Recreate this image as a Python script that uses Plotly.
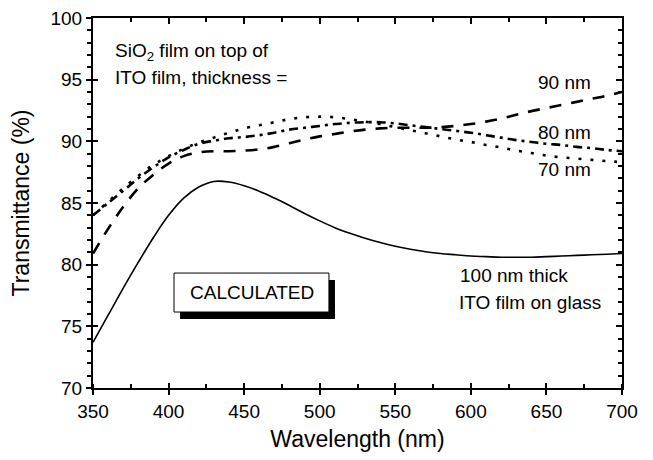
import plotly.graph_objects as go

wavelength = [350, 360, 370, 380, 390, 400, 410, 420, 430, 440, 450, 460, 470, 480, 490,
              500, 510, 520, 530, 540, 550, 560, 570, 580, 590, 600, 610, 620, 630, 640,
              650, 660, 670, 680, 690, 700]

t_ito_only = [73.7, 75.9, 78.1, 80.2, 82.2, 84.0, 85.4, 86.3, 86.75, 86.7, 86.4, 85.95, 85.4, 84.8, 84.15,
              83.55, 83.0, 82.55, 82.15, 81.8, 81.5, 81.25, 81.05, 80.9, 80.8, 80.7, 80.65, 80.6, 80.6, 80.6,
              80.65, 80.7, 80.75, 80.8, 80.85, 80.9]

t_90nm = [80.9, 82.9, 84.7, 86.2, 87.3, 88.2, 88.8, 89.1, 89.2, 89.2, 89.25, 89.35, 89.55, 89.85, 90.15,
          90.4, 90.6, 90.8, 90.95, 91.05, 91.1, 91.1, 91.1, 91.15, 91.25, 91.4, 91.6, 91.85, 92.15, 92.45,
          92.7, 92.95, 93.2, 93.45, 93.7, 94.0]

t_80nm = [84.0, 85.0, 86.0, 87.0, 87.9, 88.7, 89.3, 89.8, 90.05, 90.25, 90.35, 90.5, 90.7, 90.95, 91.1,
          91.25, 91.4, 91.5, 91.55, 91.55, 91.45, 91.3, 91.15, 91.0, 90.85, 90.7, 90.5, 90.3, 90.1, 89.95,
          89.8, 89.7, 89.55, 89.45, 89.3, 89.2]

t_70nm = [84.0, 85.1, 86.2, 87.2, 88.1, 88.8, 89.4, 89.9, 90.3, 90.7, 91.05, 91.3, 91.55, 91.8, 91.95,
          92.0, 91.95, 91.8, 91.6, 91.4, 91.15, 90.9, 90.65, 90.4, 90.15, 89.95, 89.7, 89.5, 89.25, 89.05,
          88.85, 88.7, 88.6, 88.5, 88.4, 88.3]

x_ticks = [350, 400, 450, 500, 550, 600, 650, 700]
y_ticks = [70, 75, 80, 85, 90, 95, 100]

FONT = "Liberation Sans"
X_RANGE = [350, 700]
Y_RANGE = [70, 100]

fig = go.Figure()
fig.add_trace(go.Scatter(x=wavelength, y=t_ito_only, mode="lines",
                         line=dict(color="black", width=1.6, shape="spline")))
fig.add_trace(go.Scatter(x=wavelength, y=t_90nm, mode="lines",
                         line=dict(color="black", width=2.6, dash="12px,10px", shape="spline")))
fig.add_trace(go.Scatter(x=wavelength, y=t_80nm, mode="lines",
                         line=dict(color="black", width=2.6, dash="9px,5px,3px,5px", shape="spline")))
fig.add_trace(go.Scatter(x=wavelength, y=t_70nm, mode="lines",
                         line=dict(color="black", width=2.6, dash="3px,9px", shape="spline")))
# invisible helper traces so the overlay tick axes are drawn
fig.add_trace(go.Scatter(x=[X_RANGE[0]], y=[Y_RANGE[0]], xaxis="x2", yaxis="y2", mode="markers",
                         marker=dict(opacity=0), hoverinfo="skip"))
fig.add_trace(go.Scatter(x=[X_RANGE[0]], y=[Y_RANGE[0]], xaxis="x3", yaxis="y3", mode="markers",
                         marker=dict(opacity=0), hoverinfo="skip"))

axis_common = dict(showgrid=False, zeroline=False, linecolor="black", linewidth=2,
                   tickcolor="black", tickwidth=2, showline=True, automargin=False,
                   ticklabeloverflow="allow")
overlay_common = dict(showticklabels=False, showgrid=False, zeroline=False, showline=False,
                      tickcolor="black", tickwidth=2, automargin=False)

fig.update_layout(
    width=645, height=452,
    margin=dict(l=85, r=31, t=10, b=72),
    paper_bgcolor="white", plot_bgcolor="white",
    showlegend=False,
    font=dict(family=FONT, color="black"),
    xaxis=dict(range=X_RANGE, tickvals=x_ticks, ticks="outside", ticklen=5,
               mirror=True, tickfont=dict(size=19, family=FONT),
               minor=dict(dtick=25, tick0=350, ticks="inside", ticklen=4, tickwidth=2, tickcolor="black"),
               title=dict(text="Wavelength (nm)", font=dict(size=23, family=FONT), standoff=10),
               **axis_common),
    yaxis=dict(range=Y_RANGE, tickvals=y_ticks, ticks="outside", ticklen=5,
               mirror=True, tickfont=dict(size=19, family=FONT),
               minor=dict(dtick=1, tick0=70, ticks="outside", ticklen=4, tickwidth=2, tickcolor="black"),
               title=dict(text="Transmittance (%)", font=dict(size=23, family=FONT), standoff=18),
               **axis_common),
    xaxis2=dict(range=X_RANGE, overlaying="x", side="top", tickvals=x_ticks, ticks="inside", ticklen=6,
                minor=dict(dtick=25, tick0=350, ticks="inside", ticklen=4, tickwidth=2, tickcolor="black"),
                **overlay_common),
    yaxis2=dict(range=Y_RANGE, overlaying="y", side="right", tickvals=y_ticks, ticks="inside", ticklen=6,
                minor=dict(dtick=1, tick0=70, ticks="inside", ticklen=4, tickwidth=2, tickcolor="black"),
                **overlay_common),
    xaxis3=dict(range=X_RANGE, overlaying="x", side="bottom", tickvals=x_ticks, ticks="inside", ticklen=5,
                **overlay_common),
    yaxis3=dict(range=Y_RANGE, overlaying="y", side="left", tickvals=y_ticks, ticks="inside", ticklen=5,
                **overlay_common),
)

# CALCULATED box with drop shadow
fig.add_shape(type="rect", xref="x", yref="y", x0=407.6, x1=510.1, y0=75.59, y1=78.76,
              fillcolor="black", line=dict(width=0), layer="above")
fig.add_shape(type="rect", xref="x", yref="y", x0=403.6, x1=506.1, y0=76.16, y1=79.32,
              fillcolor="white", line=dict(color="black", width=1), layer="above")
fig.add_annotation(x=454.9, y=77.74, xref="x", yref="y", text="CALCULATED", showarrow=False,
                   font=dict(size=19, family=FONT, color="black"))

fig.add_annotation(x=363.2, y=97.24, xref="x", yref="y", xanchor="left", yanchor="middle",
                   text="SiO<sub>2</sub> film on top of", showarrow=False,
                   font=dict(size=19, family=FONT))
fig.add_annotation(x=363.2, y=95.14, xref="x", yref="y", xanchor="left", yanchor="middle",
                   text="ITO film, thickness =", showarrow=False,
                   font=dict(size=19, family=FONT))

for label, yv in [("90 nm", 94.81), ("80 nm", 90.68), ("70 nm", 87.68)]:
    fig.add_annotation(x=680.8, y=yv, xref="x", yref="y", xanchor="right", yanchor="middle",
                       text=label, showarrow=False, font=dict(size=19, family=FONT))

fig.add_annotation(x=591.5, y=79.16, xref="x", yref="y", xanchor="left", yanchor="middle",
                   text="100 nm thick", showarrow=False, font=dict(size=19, family=FONT))
fig.add_annotation(x=590.8, y=76.97, xref="x", yref="y", xanchor="left", yanchor="middle",
                   text="ITO film on glass", showarrow=False, font=dict(size=19, family=FONT))

fig.write_html("out.html")
